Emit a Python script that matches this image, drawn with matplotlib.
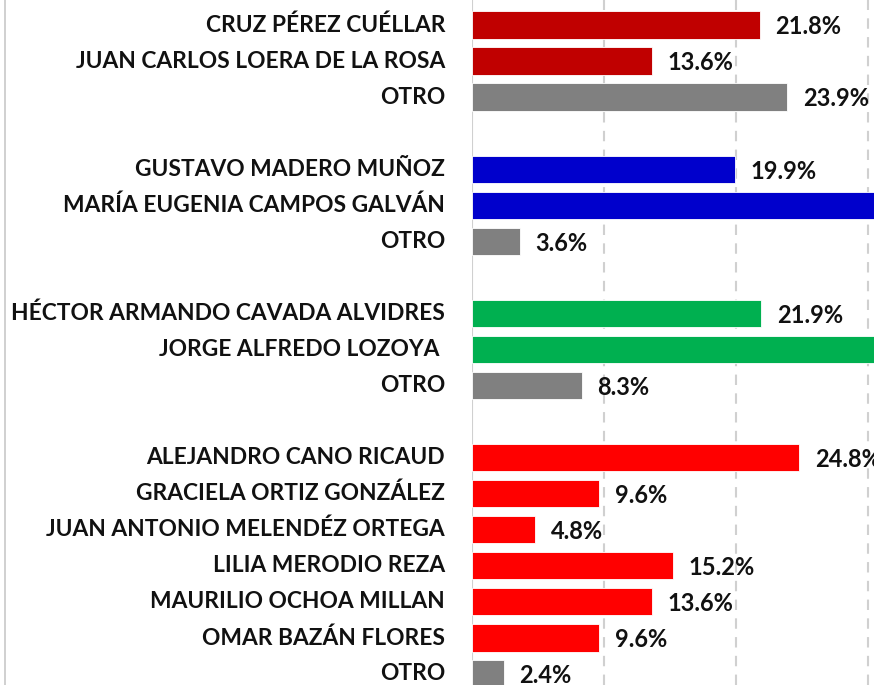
import matplotlib.pyplot as plt
from matplotlib.lines import Line2D

# categorias por grupo (fila vacia entre grupos)
nombres = ['CRUZ PÉREZ CUÉLLAR', 'JUAN CARLOS LOERA DE LA ROSA', 'OTRO', '',
           'GUSTAVO MADERO MUÑOZ', 'MARÍA EUGENIA CAMPOS GALVÁN', 'OTRO', '',
           'HÉCTOR ARMANDO CAVADA ALVIDRES', 'JORGE ALFREDO LOZOYA ', 'OTRO', '',
           'ALEJANDRO CANO RICAUD', 'GRACIELA ORTIZ GONZÁLEZ',
           'JUAN ANTONIO MELENDÉZ ORTEGA', 'LILIA MERODIO REZA',
           'MAURILIO OCHOA MILLAN', 'OMAR BAZÁN FLORES', 'OTRO']
valores = [21.8, 13.6, 23.9, None,
           19.9, 76.5, 3.6, None,
           21.9, 69.8, 8.3, None,
           24.8, 9.6, 4.8, 15.2, 13.6, 9.6, 2.4]
colores = ['#C00000', '#C00000', '#808080', None,
           '#0000CC', '#0000CC', '#808080', None,
           '#00B050', '#00B050', '#808080', None,
           '#FF0000', '#FF0000', '#FF0000', '#FF0000', '#FF0000', '#FF0000', '#808080']

plt.rcParams['font.family'] = ['Lato', 'DejaVu Sans']

fig = plt.figure(figsize=(8.74, 6.85), dpi=100)
ax = fig.add_axes([472 / 874, 0, 1 - 472 / 874, 1])

paso = 36.05  # px por fila
escala = 13.2  # px por 1%
xmax = (874 - 472) / escala
ax.set_xlim(0, xmax)
ax.set_ylim((685 - 25) / paso, -25 / paso)

for i, (n, v, c) in enumerate(zip(nombres, valores, colores)):
    if v is None:
        continue
    ax.barh(i, v, height=0.76, color=c, edgecolor='white', linewidth=0.6, zorder=3)
    if v + 1.2 < xmax:  # las etiquetas fuera del recorte no se ven
        ax.text(v + 1.2, i + 0.05, f'{v:.1f}%', va='center', ha='left', fontsize=17,
                fontweight='bold', color='#111111', clip_on=False, zorder=4)
    ax.text(-27 / escala, i, n, va='center', ha='right', fontsize=16.4,
            fontweight='bold', color='#111111', clip_on=False)

for g in [10, 20, 30]:
    ax.axvline(g, color='#d0d0d0', linestyle=(0, (5, 4)), linewidth=1.5, zorder=1)
ax.axvline(0, color='#d0d0d0', linewidth=1.5, zorder=2)

for s in ax.spines.values():
    s.set_visible(False)
ax.set_xticks([])
ax.set_yticks([])

fig.add_artist(Line2D([5 / 874, 5 / 874], [0, 1], color='#c8c8c8', linewidth=1.2))

fig.savefig('out.png', dpi=100)
